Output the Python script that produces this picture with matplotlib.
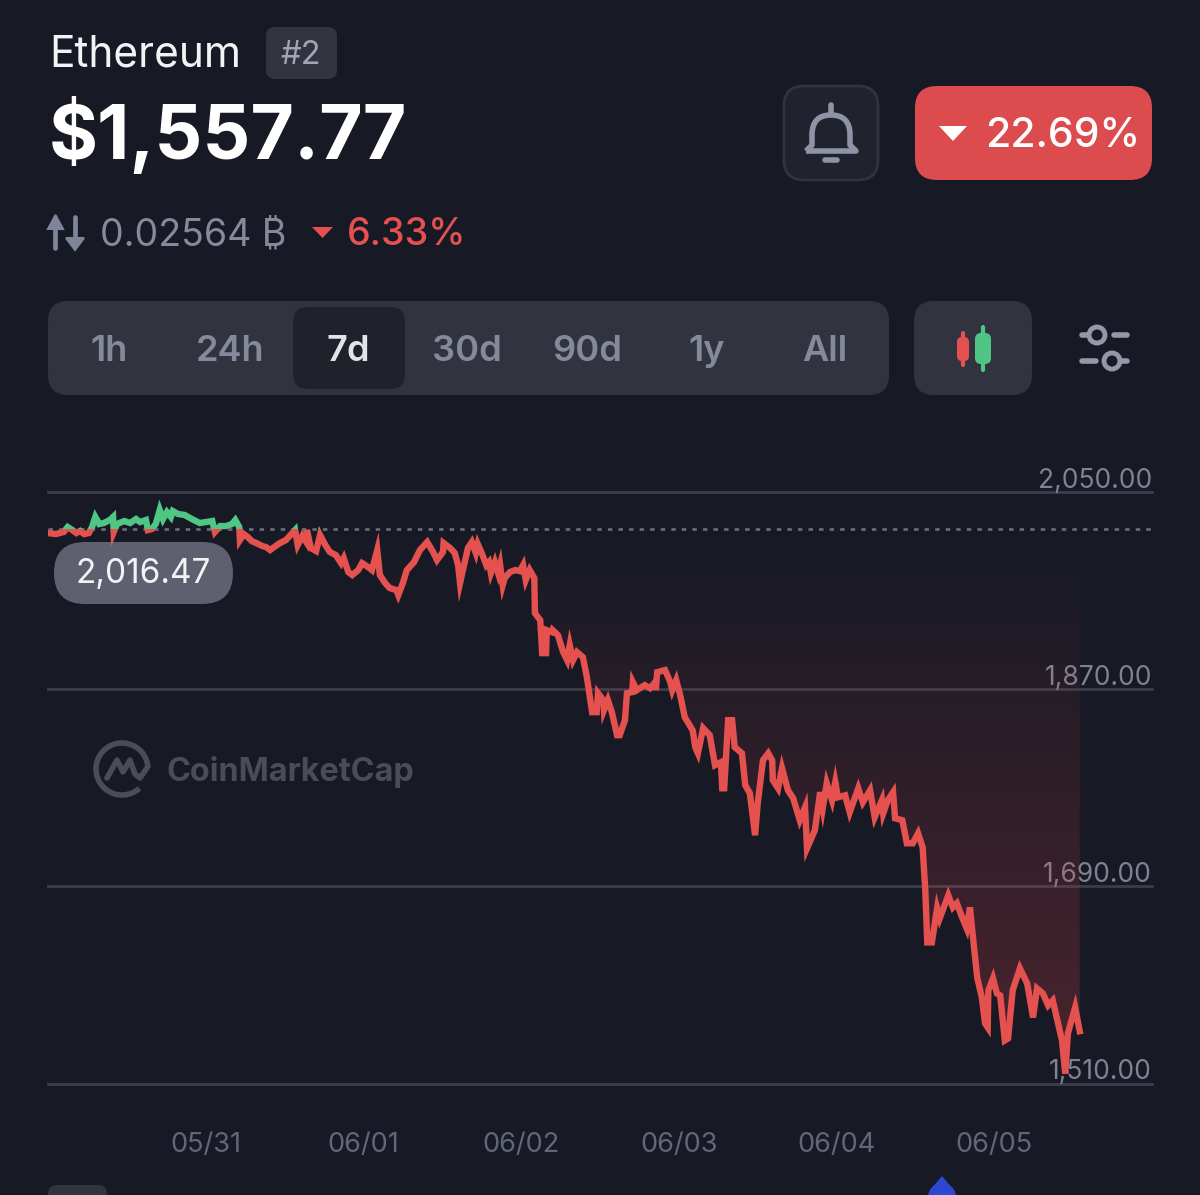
import numpy as np
import matplotlib
matplotlib.use("Agg")
import matplotlib.pyplot as plt
from matplotlib.patches import FancyBboxPatch, Polygon, Rectangle, Circle, Arc, PathPatch
from matplotlib.path import Path
from matplotlib.transforms import ScaledTranslation

plt.rcParams["font.family"] = ["Inter", "DejaVu Sans"]

# chart data, hours since the start of the 7 day window and price in USD
hours = [
    0, 1.2, 2.4, 3.0, 3.7, 4.3, 4.9, 5.5, 6.2, 6.7, 7.2, 7.8, 8.5, 9.4, 9.9, 10.0, 10.5, 11.6, 12.5, 13.4,
    14.0, 14.9, 15.2, 15.8, 16.4, 17.0, 17.5, 18.1, 18.7, 19.0, 19.8, 20.8, 21.9, 22.5, 23.1, 24.0, 25.0, 25.4, 26.2, 27.1,
    28.0, 28.5, 29.1, 29.2, 29.8, 30.4, 31.0, 31.7, 32.6, 33.2, 33.8, 34.4, 35.3, 36.2, 37.6, 38.0, 38.7, 39.3, 39.4, 40.0,
    40.8, 41.4, 42.2, 42.9, 43.8, 44.6, 45.0, 45.7, 46.3, 47.2, 47.8, 48.7, 49.3, 50.1, 50.5, 51.3, 52.0, 53.0, 53.3, 54.0,
    54.6, 55.7, 56.6, 57.7, 58.6, 59.2, 60.1, 60.2, 61.2, 61.9, 62.4, 62.7, 63.5, 63.9, 64.5, 65.1, 65.4, 66.0, 66.7, 67.1,
    67.4, 68.0, 68.5, 68.8, 69.2, 69.5, 70.3, 71.1, 71.8, 72.3, 72.7, 73.3, 74.0, 74.1, 74.9, 75.2, 75.8, 75.9, 76.7, 76.8,
    77.6, 78.4, 79.0, 79.4, 79.9, 80.5, 81.4, 82.0, 82.8, 83.5, 83.7, 84.5, 84.6, 85.2, 85.8, 86.6, 87.0, 87.8, 88.1, 88.9,
    89.0, 89.6, 90.8, 91.6, 92.4, 92.5, 92.7, 93.9, 94.7, 95.0, 95.6, 96.2, 96.9, 98.1, 98.5, 98.9, 99.7, 100.0, 100.7, 101.5,
    102.4, 102.6, 102.9, 103.5, 104.1, 104.5, 105.6, 106.1, 106.8, 107.6, 108.0, 108.8, 109.6, 110.2, 110.3, 111.1, 111.7, 112.6, 113.4, 114.4,
    115.2, 115.5, 116.7, 117.5, 117.9, 118.5, 119.3, 119.8, 120.2, 121.3, 122.0, 123.3, 124.0, 125.1, 125.8, 126.9, 127.1, 127.8, 128.6, 128.9,
    130.0, 130.7, 131.6, 132.4, 133.1, 133.5, 133.8, 134.5, 135.3, 135.7, 137.0, 137.7, 138.3, 139.1, 139.8, 140.3, 140.6, 141.4, 142.1, 142.6,
    143.0, 143.1, 143.8, 144.4, 144.9, 145.6, 146.1, 146.8, 147.9, 149.0, 149.9, 150.5, 151.4, 152.2, 152.9, 154.3, 154.8, 155.2, 156.3, 157.0,
]
prices = [
    2012.5, 2011.6, 2013.5, 2018.0, 2015.3, 2012.5, 2014.4, 2011.6, 2012.5, 2018.0, 2027.2, 2020.8, 2021.7, 2024.4, 2027.2, 2013.5, 2020.8, 2023.5, 2021.7, 2025.3,
    2022.6, 2024.4, 2015.3, 2016.2, 2020.8, 2033.6, 2025.3, 2031.7, 2027.2, 2032.6, 2029.9, 2029.0, 2025.3, 2023.5, 2021.7, 2022.6, 2023.5, 2013.5, 2018.9, 2018.9,
    2020.8, 2024.4, 2018.0, 2006.1, 2011.6, 2008.9, 2005.2, 2003.4, 2000.7, 1999.7, 1997.0, 1999.7, 2003.4, 2006.1, 2015.3, 2001.6, 2009.8, 2004.3, 2015.3, 1998.8,
    1996.1, 2010.7, 2001.6, 1995.2, 1992.4, 1985.1, 1989.7, 1976.9, 1974.2, 1978.7, 1985.1, 1981.5, 1978.7, 1997.0, 1974.2, 1966.9, 1962.3, 1960.5, 1955.9, 1966.9,
    1978.7, 1986.0, 1997.0, 2004.3, 1995.2, 1987.9, 1995.2, 2003.4, 1998.8, 1994.3, 1983.3, 1966.9, 1987.9, 1998.8, 2004.3, 1994.3, 2002.5, 1994.3, 1983.3, 1986.0,
    1976.0, 1986.0, 1976.0, 1983.3, 1965.0, 1971.4, 1976.9, 1978.7, 1977.8, 1983.3, 1969.6, 1978.7, 1971.4, 1939.4, 1933.0, 1902.9, 1902.9, 1923.9, 1922.1, 1923.9,
    1919.3, 1903.8, 1896.5, 1910.2, 1896.5, 1903.8, 1899.2, 1881.0, 1849.0, 1849.0, 1866.3, 1860.0, 1850.8, 1860.0, 1849.0, 1828.0, 1828.0, 1841.7, 1866.3, 1867.3,
    1876.4, 1869.1, 1873.7, 1870.9, 1876.4, 1869.1, 1885.5, 1887.4, 1876.4, 1869.1, 1878.2, 1864.5, 1844.4, 1832.5, 1817.0, 1811.5, 1834.4, 1832.5, 1828.0, 1800.6,
    1803.3, 1779.5, 1779.5, 1841.7, 1841.7, 1817.0, 1811.5, 1782.3, 1775.0, 1736.6, 1765.8, 1805.1, 1811.5, 1805.1, 1786.9, 1779.5, 1797.8, 1777.7, 1770.4, 1750.3,
    1762.2, 1724.7, 1741.2, 1775.9, 1761.3, 1784.1, 1768.6, 1785.0, 1771.3, 1773.1, 1757.6, 1779.5, 1766.7, 1777.7, 1753.0, 1768.6, 1756.7, 1768.6, 1775.9, 1752.1,
    1750.3, 1729.3, 1729.3, 1738.4, 1725.6, 1686.3, 1638.8, 1638.8, 1669.9, 1660.8, 1681.8, 1670.8, 1674.5, 1661.7, 1651.6, 1670.8, 1652.5, 1606.9, 1588.6, 1564.8,
    1561.2, 1595.0, 1606.0, 1592.2, 1590.4, 1549.3, 1551.1, 1595.0, 1615.1, 1601.4, 1570.3, 1596.8, 1592.2, 1581.3, 1585.8, 1549.3, 1519.1, 1555.7, 1579.4, 1557.77,
]
open_price = 2016.47
y_ticks = [1510, 1690, 1870, 2050]
y_labels = ["1,510.00", "1,690.00", "1,870.00", "2,050.00"]
x_ticks = [24, 48, 72, 96, 120, 144]
x_labels = ["05/31", "06/01", "06/02", "06/03", "06/04", "06/05"]
tab_names = ["1h", "24h", "7d", "30d", "90d", "1y", "All"]
tab_centers = [109, 230, 348, 467, 587, 707, 825]

BG = "#171a25"
PANEL = "#31343f"
RED = "#e5514f"
GREEN = "#50c685"
GREY = "#858a9a"
MARK = "#4a4c56"

fig = plt.figure(figsize=(12, 11.95), dpi=100, facecolor=BG)

# screen layer in pixel coordinates for the app furniture
ui = fig.add_axes([0, 0, 1, 1], zorder=0)
ui.set_xlim(0, 1200)
ui.set_ylim(1195, 0)
ui.axis("off")


def box(x0, y0, x1, y1, r, color, edge="none", lw=0, z=1):
    ui.add_patch(FancyBboxPatch((x0 + r, y0 + r), x1 - x0 - 2 * r, y1 - y0 - 2 * r,
                                boxstyle=f"round,pad={r},rounding_size={r}",
                                fc=color, ec=edge, lw=lw, zorder=z))


def stick(xs, ys, color, lw, z=3):
    ui.plot(xs, ys, color=color, lw=lw, solid_capstyle="round", solid_joinstyle="round", zorder=z)


# header
ui.text(49, 55, "Ethereum", fontsize=30.5, color="#f2f3f5", va="center", ha="left")
box(266, 27, 337, 79, 9, PANEL)
ui.text(301, 55, "#2", fontsize=23.5, color="#a0a5b4", va="center", ha="center")
ui.text(49, 136, "$1,557.77", fontsize=54, color="white", weight="bold", va="center", ha="left")

# bell button
box(784, 86, 878, 180, 20, "#20232e", edge=PANEL, lw=2)
bell = Path([(806, 151), (812, 145), (812, 135), (812, 115), (831, 115), (850, 115), (850, 135), (850, 145), (856, 151), (806, 151)],
            [Path.MOVETO, Path.LINETO, Path.LINETO, Path.CURVE3, Path.CURVE3, Path.CURVE3, Path.CURVE3, Path.LINETO, Path.LINETO, Path.LINETO])
ui.add_patch(PathPatch(bell, fc="none", ec="#8e93a5", lw=4, zorder=3, joinstyle="round"))
stick([831, 831], [105, 112], "#8e93a5", 4)
stick([825, 837], [160, 160], "#8e93a5", 4)

# change badge
box(915, 86, 1152, 180, 22, "#dc4b4e")
ui.add_patch(Polygon([(939, 126), (967, 126), (953, 141)], fc="white", zorder=3, joinstyle="round"))
ui.text(985, 136, "22.69%", fontsize=29.5, color="white", weight="medium", va="center", ha="left")

# btc line
stick([55, 55], [222, 248], "#7f8598", 3.4)
ui.add_patch(Polygon([(48, 229), (63, 229), (55.5, 215)], fc="#7f8598", ec="#7f8598", lw=1.5, zorder=3))
stick([75, 75], [217, 242], "#7f8598", 3.4)
ui.add_patch(Polygon([(66, 238), (84, 238), (75, 250)], fc="#7f8598", ec="#7f8598", lw=1.5, zorder=3))
ui.text(100, 235, "0.02564 \u20bf", fontsize=27, color="#858a9a", va="center", ha="left")
ui.add_patch(Polygon([(312, 227), (333, 227), (322.5, 238)], fc=RED, zorder=3))
ui.text(347, 235, "6.33%", fontsize=27, color=RED, weight="medium", va="center", ha="left")

# time range tabs
box(48, 301, 889, 395, 20, PANEL)
box(293, 307, 405, 389, 15, "#1f212b", z=2)
for name, cx in zip(tab_names, tab_centers):
    col = "#e3e4e8" if name == "7d" else GREY
    ui.text(cx, 351, name, fontsize=26, color=col, weight="semibold", va="center", ha="center", zorder=3)

# candle button
box(914, 301, 1032, 395, 20, PANEL)
stick([963, 963], [333, 365], RED, 3)
box(957, 337, 969, 361, 5, RED, z=3)
stick([983, 983], [327, 370], GREEN, 3)
box(975, 333, 991, 364, 6, GREEN, z=3)

# filter sliders
for xs in [[1082, 1088], [1114, 1127]]:
    stick(xs, [335, 335], "#9497a8", 4)
for xs in [[1082, 1096], [1122, 1127]]:
    stick(xs, [361, 361], "#9497a8", 4)
for cx, cy in [(1097, 335), (1112, 361)]:
    ui.add_patch(Circle((cx, cy), 8, fc=BG, ec="#9497a8", lw=3.5, zorder=4))

# watermark
ui.add_patch(Arc((122, 769), 52, 52, theta1=48, theta2=358, ec=MARK, lw=4, zorder=1))
ui.plot([107, 117, 123, 130, 135, 140, 147], [778, 760, 772, 760, 774, 778, 768], color=MARK, lw=4,
        solid_joinstyle="round", solid_capstyle="round", zorder=1)
ui.text(166, 772, "CoinMarketCap", fontsize=23.3, color=MARK, weight="bold", va="center", ha="left", zorder=1)

# open price pill
box(54, 542, 233, 604, 31, "#5e606f", z=5)
ui.text(143, 574, "2,016.47", fontsize=24, color="#f2f3f5", va="center", ha="center", zorder=6)

# bottom strip, cut by the screen edge
box(48, 1185, 107, 1215, 9, PANEL)
ui.add_patch(Circle((942, 1197), 14, fc="#2d47d0", ec="none", zorder=3))
ui.add_patch(Polygon([(931, 1189), (953, 1189), (942, 1176)], fc="#2d47d0", zorder=3))

# chart
ax = fig.add_axes([48 / 1200, 1 - 1083.5 / 1195, 1104 / 1200, 591.5 / 1195], zorder=1)
ax.patch.set_visible(False)
ax.set_xlim(0, 168)
ax.set_ylim(1510, 2050)
for s in ax.spines.values():
    s.set_visible(False)
ax.set_axisbelow(True)
ax.grid(axis="y", color="#3a3d4c", lw=2)
ax.grid(axis="x", visible=False)
for gl in ax.get_ygridlines():
    gl.set_clip_on(False)
ax.yaxis.tick_right()
ax.set_yticks(y_ticks)
ax.set_yticklabels(y_labels, ha="right", va="bottom", fontsize=19, color="#7f8391")
ax.tick_params(axis="y", length=0, pad=0)
shift_down = ScaledTranslation(0, -1.5 / 100, fig.dpi_scale_trans)
for lab in ax.get_yticklabels():
    lab.set_transform(lab.get_transform() + shift_down)
ax.set_xticks(x_ticks)
ax.set_xticklabels(x_labels, fontsize=19.5, color="#62667a")
ax.tick_params(axis="x", length=0, pad=35)

ax.axhline(open_price, color="#666a78", lw=2, ls=(0, (1.6, 2.2)), zorder=1)

# red wash between the line and the open price, stronger towards the bottom
outline = ax.fill_between(hours, prices, open_price, color="none")
shade = np.zeros((256, 2, 4))
shade[..., 0] = 0.86
shade[..., 1] = 0.25
shade[..., 2] = 0.28
shade[..., 3] = np.linspace(0.0, 0.27, 256)[:, None]
img = ax.imshow(shade, extent=[0, 157, 1510, open_price], origin="upper", aspect="auto", zorder=1.5)
img.set_clip_path(outline.get_paths()[0], transform=ax.transData)
ax.set_xlim(0, 168)
ax.set_ylim(1510, 2050)

red_line, = ax.plot(hours, prices, color=RED, lw=4.6, solid_joinstyle="miter", zorder=3)
green_line, = ax.plot(hours, prices, color=GREEN, lw=4.6, solid_joinstyle="miter", zorder=3)
red_line.set_clip_path(Rectangle((0, 1400), 168, open_price - 1400, transform=ax.transData))
green_line.set_clip_path(Rectangle((0, open_price), 168, 200, transform=ax.transData))

fig.savefig("out.png", dpi=100, facecolor=BG)
